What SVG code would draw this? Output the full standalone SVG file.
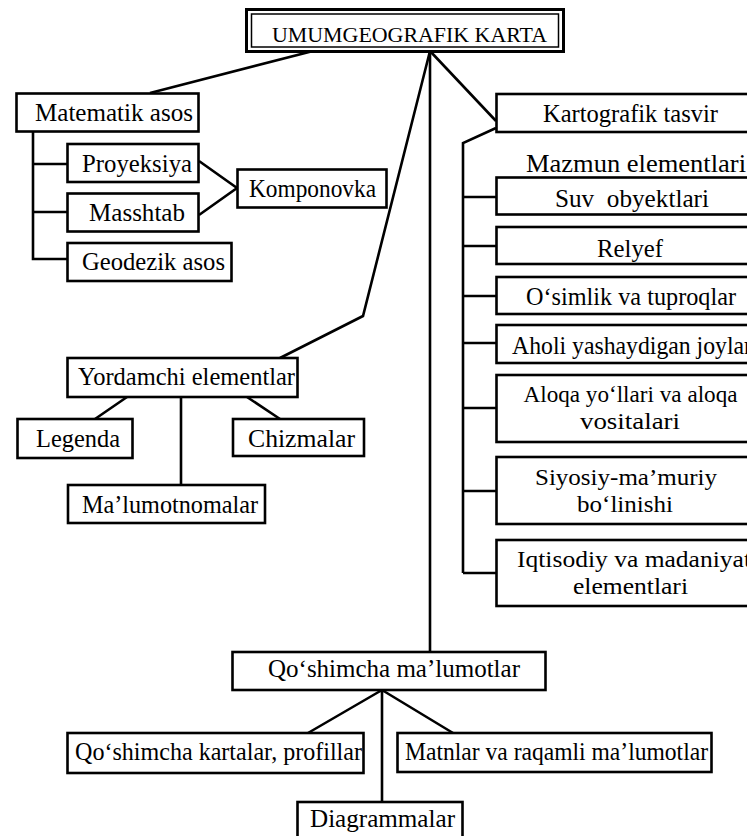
<svg xmlns="http://www.w3.org/2000/svg" width="747" height="836" viewBox="0 0 747 836">
<style>
.b{fill:#fff;stroke:#000;stroke-width:2.6}
.t{font-family:'Liberation Serif','Times New Roman',serif;font-size:26px;fill:#000;text-anchor:middle}
.t2{font-size:24px}
.c{fill:none;stroke:#000;stroke-width:2.6;stroke-linejoin:miter}
</style>
<rect width="747" height="836" fill="#fff"/>
<g id="connectors">
<path class="c" d="M313,51 L150,93"/>
<path class="c" d="M430,51 L363,316 L280,358"/>
<path class="c" d="M430,51 L430,652"/>
<path class="c" d="M430,51 L496,121"/>
<path class="c" d="M496,128 L463,143 L463,573"/>
<path class="c" d="M463,197 H496 M463,246 H496 M463,296 H496 M463,343 H496 M463,408 H496 M463,491 H496 M463,573 H496"/>
<path class="c" d="M33,132 V259 H67 M33,164 H67 M33,212 H67"/>
<path class="c" d="M199,161 L237,188 L199,215"/>
<path class="c" d="M127,397 L95,419 M181,397 V485 M247,397 L280,419"/>
<path class="c" d="M382,690 L308,733 M382,690 V802 M382,690 L453,733"/>
</g>
<g id="umumgeografik">
<rect x="246.5" y="9.5" width="317" height="42" fill="#fff" stroke="#000" stroke-width="3"/>
<rect x="251.5" y="14" width="307" height="33" fill="none" stroke="#000" stroke-width="1.5"/>
<text class="t" x="409.5" y="42" style="font-size:22px" textLength="275" lengthAdjust="spacingAndGlyphs">UMUMGEOGRAFIK KARTA</text>
</g>
<g id="matematik">
<rect class="b" x="16.5" y="93.5" width="182" height="38"/>
<text class="t" x="114" y="121" textLength="158" lengthAdjust="spacingAndGlyphs">Matematik asos</text>
</g>
<g id="proyeksiya">
<rect class="b" x="67.5" y="144" width="131" height="38"/>
<text class="t" x="137" y="172" textLength="110" lengthAdjust="spacingAndGlyphs">Proyeksiya</text>
</g>
<g id="masshtab">
<rect class="b" x="67.5" y="193.5" width="131" height="38"/>
<text class="t" x="137" y="221" textLength="96" lengthAdjust="spacingAndGlyphs">Masshtab</text>
</g>
<g id="geodezik">
<rect class="b" x="67.5" y="243" width="164" height="38"/>
<text class="t" x="153.5" y="270" textLength="143" lengthAdjust="spacingAndGlyphs">Geodezik asos</text>
</g>
<g id="komponovka">
<rect class="b" x="237.5" y="169.5" width="149" height="38"/>
<text class="t" x="312.5" y="197" textLength="127" lengthAdjust="spacingAndGlyphs">Komponovka</text>
</g>
<g id="kartografik">
<rect class="b" x="496.5" y="94" width="270" height="38"/>
<text class="t" x="630.5" y="122" textLength="175" lengthAdjust="spacingAndGlyphs">Kartografik tasvir</text>
</g>
<g id="mazmun">
<text class="t" x="636" y="172" textLength="220" lengthAdjust="spacingAndGlyphs">Mazmun elementlari</text>
</g>
<g id="suv">
<rect class="b" x="496.5" y="177.5" width="270" height="37"/>
<text class="t" x="632" y="207" textLength="154" lengthAdjust="spacingAndGlyphs" xml:space="preserve">Suv  obyektlari</text>
</g>
<g id="relyef">
<rect class="b" x="496.5" y="227" width="270" height="37"/>
<text class="t" x="630" y="257" textLength="66" lengthAdjust="spacingAndGlyphs">Relyef</text>
</g>
<g id="osimlik">
<rect class="b" x="496.5" y="277" width="270" height="37"/>
<text class="t" x="631" y="305" textLength="210" lengthAdjust="spacingAndGlyphs">O‘simlik va tuproqlar</text>
</g>
<g id="aholi">
<rect class="b" x="496.5" y="325" width="270" height="38"/>
<text class="t" x="512" y="354" style="text-anchor:start" textLength="240" lengthAdjust="spacingAndGlyphs">Aholi yashaydigan joylar</text>
</g>
<g id="aloqa">
<rect class="b" x="496.5" y="375" width="270" height="67"/>
<text class="t t2" x="630.5" y="402" textLength="214" lengthAdjust="spacingAndGlyphs">Aloqa yo‘llari va aloqa</text>
<text class="t t2" x="630" y="429" textLength="100" lengthAdjust="spacingAndGlyphs">vositalari</text>
</g>
<g id="siyosiy">
<rect class="b" x="496.5" y="457" width="270" height="67"/>
<text class="t t2" x="626" y="485" textLength="182" lengthAdjust="spacingAndGlyphs">Siyosiy-ma’muriy</text>
<text class="t t2" x="625" y="512" textLength="96" lengthAdjust="spacingAndGlyphs">bo‘linishi</text>
</g>
<g id="iqtisodiy">
<rect class="b" x="496.5" y="540" width="270" height="66"/>
<text class="t t2" x="517" y="567" style="text-anchor:start" textLength="234" lengthAdjust="spacingAndGlyphs">Iqtisodiy va madaniyat</text>
<text class="t t2" x="630.5" y="594" textLength="115" lengthAdjust="spacingAndGlyphs">elementlari</text>
</g>
<g id="yordamchi">
<rect class="b" x="67.5" y="358" width="230" height="39"/>
<text class="t" x="186.5" y="385" textLength="217" lengthAdjust="spacingAndGlyphs">Yordamchi elementlar</text>
</g>
<g id="legenda">
<rect class="b" x="17.5" y="419" width="115" height="39"/>
<text class="t" x="78" y="447" textLength="84" lengthAdjust="spacingAndGlyphs">Legenda</text>
</g>
<g id="chizmalar">
<rect class="b" x="233" y="419" width="131" height="37"/>
<text class="t" x="301.5" y="447" textLength="107" lengthAdjust="spacingAndGlyphs">Chizmalar</text>
</g>
<g id="malumotnomalar">
<rect class="b" x="68" y="485" width="197" height="38"/>
<text class="t" x="170" y="513" textLength="176" lengthAdjust="spacingAndGlyphs">Ma’lumotnomalar</text>
</g>
<g id="qoshimcha">
<rect class="b" x="232.5" y="652" width="313" height="38"/>
<text class="t" x="394" y="677" textLength="252" lengthAdjust="spacingAndGlyphs">Qo‘shimcha ma’lumotlar</text>
</g>
<g id="kartalar">
<rect class="b" x="67.5" y="733" width="296" height="40"/>
<text class="t" x="218.5" y="760" textLength="287" lengthAdjust="spacingAndGlyphs">Qo‘shimcha kartalar, profillar</text>
</g>
<g id="matnlar">
<rect class="b" x="397.5" y="733" width="314" height="39"/>
<text class="t" x="556.5" y="760" textLength="303" lengthAdjust="spacingAndGlyphs">Matnlar va raqamli ma’lumotlar</text>
</g>
<g id="diagrammalar">
<rect class="b" x="297.5" y="802" width="165" height="50"/>
<text class="t" x="382.5" y="827" textLength="145" lengthAdjust="spacingAndGlyphs">Diagrammalar</text>
</g>
</svg>
